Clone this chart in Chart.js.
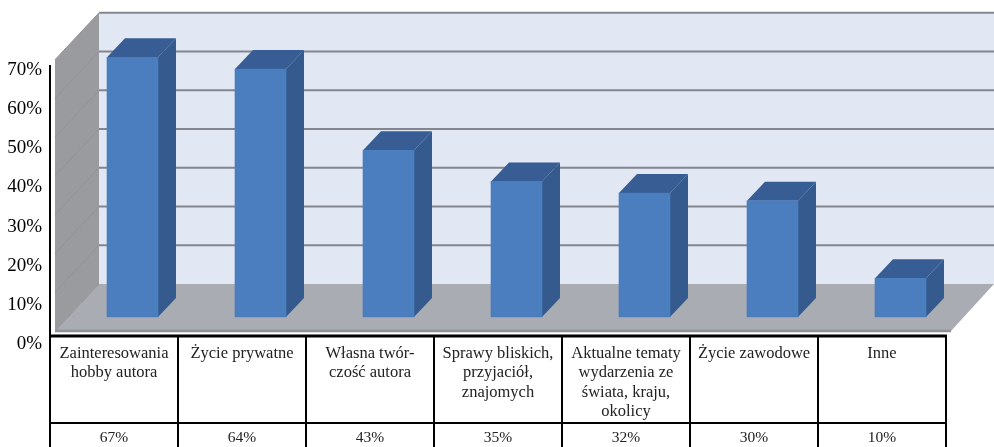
<!DOCTYPE html>
<html>
<head>
<meta charset="utf-8">
<script src="https://cdn.jsdelivr.net/npm/chart.js@4"></script>
<style>
  html, body { margin: 0; background: #fff; }
  canvas { display: block; }
</style>
</head>
<body>
<canvas id="chart" width="994" height="447"></canvas>
<script>
const categories = [
  ['Zainteresowania', 'hobby autora'],
  'Życie prywatne',
  ['Własna twór-', 'czość autora'],
  ['Sprawy bliskich,', 'przyjaciół,', 'znajomych'],
  ['Aktualne tematy', 'wydarzenia ze', 'świata, kraju,', 'okolicy'],
  'Życie zawodowe',
  'Inne',
]
const shares = [67, 64, 43, 35, 32, 30, 10]
const tickValues = [0, 10, 20, 30, 40, 50, 60, 70]

const depthX = 18
const depthY = 19
const wallX = 99
const wallFrontX = 55
const floorRightX = 994
const floorFrontRightX = 951
const wallShift = 33
const floorDrop = 47
const tableTop = 336
const tableRow = 423
const tableOffset = 82.5

const poly = (ctx, points, fill) => {
  ctx.beginPath()
  points.forEach(([x, y], i) => (i ? ctx.lineTo(x, y) : ctx.moveTo(x, y)))
  ctx.closePath()
  ctx.fillStyle = fill
  ctx.fill()
}

const line = (ctx, x1, y1, x2, y2, color, width) => {
  ctx.beginPath()
  ctx.moveTo(x1, y1)
  ctx.lineTo(x2, y2)
  ctx.strokeStyle = color
  ctx.lineWidth = width
  ctx.stroke()
}

const noPadding = (axis) => {
  axis.paddingTop = 0
  axis.paddingBottom = 0
  axis.paddingLeft = 0
  axis.paddingRight = 0
}

const box3d = {
  id: 'box3d',
  beforeDraw(chart) {
    const { ctx, scales } = chart
    const wallY = (v) => scales.y.getPixelForValue(v) - wallShift
    const top = wallY(70)
    const floor = wallY(0)
    const front = floor + floorDrop
    ctx.save()
    poly(ctx, [[wallX, top], [floorRightX, top], [floorRightX, floor], [wallX, floor]], '#e1e7f3')
    poly(ctx, [[wallFrontX, top + floorDrop], [wallX, top], [wallX, floor], [wallFrontX, front]], '#9a9b9f')
    poly(ctx, [[wallFrontX, front], [wallX, floor], [floorRightX, floor], [floorFrontRightX, front]], '#a9acb3')
    tickValues.forEach((v) => {
      if (v > 0) line(ctx, wallX, wallY(v), floorRightX, wallY(v), '#83868f', 2)
      line(ctx, wallX, wallY(v), wallFrontX, wallY(v) + floorDrop, '#929397', 1)
    })
    line(ctx, wallFrontX, front, floorFrontRightX, front, '#8f9197', 2.5)
    ctx.restore()
  },
  beforeDatasetsDraw(chart) {
    const { ctx } = chart
    ctx.save()
    chart.getDatasetMeta(0).data.forEach((bar) => {
      const left = bar.x - bar.width / 2
      const right = bar.x + bar.width / 2
      poly(ctx, [[right, bar.y], [right + depthX, bar.y - depthY], [right + depthX, bar.base - depthY], [right, bar.base]], '#345a8e')
      poly(ctx, [[left, bar.y], [left + depthX, bar.y - depthY], [right + depthX, bar.y - depthY], [right, bar.y]], '#375d94')
    })
    ctx.restore()
  },
  afterDraw(chart) {
    const { ctx, scales } = chart
    const columnLeft = (i) => scales.x.getPixelForValue(0) - tableOffset + i * (scales.x.getPixelForValue(1) - scales.x.getPixelForValue(0))
    const tableLeft = columnLeft(0)
    const tableRight = columnLeft(shares.length)
    ctx.save()
    line(ctx, tableLeft, scales.yTicks.getPixelForValue(70) - 5, tableLeft, tableTop, '#000', 2)
    line(ctx, tableLeft - 1, tableTop, tableRight + 1, tableTop, '#000', 3)
    line(ctx, tableLeft - 1, tableRow, tableRight + 1, tableRow, '#000', 2)
    for (let i = 0; i <= shares.length; i++) {
      line(ctx, columnLeft(i), tableTop, columnLeft(i), chart.height, '#000', 2)
    }
    ctx.fillStyle = '#222'
    ctx.font = '15.5px "Liberation Serif"'
    ctx.textAlign = 'center'
    ctx.textBaseline = 'middle'
    shares.forEach((v, i) => {
      ctx.fillText(`${v}%`, (columnLeft(i) + columnLeft(i + 1)) / 2, 438)
    })
    ctx.restore()
  },
}

new Chart(document.getElementById('chart').getContext('2d'), {
  type: 'bar',
  data: {
    labels: categories,
    datasets: [
      {
        data: shares,
        yAxisID: 'y',
        backgroundColor: '#4a7ebf',
        borderWidth: 0,
        barThickness: 51,
      },
    ],
  },
  plugins: [box3d],
  options: {
    responsive: false,
    animation: false,
    layout: {
      padding: { top: 13, right: 29.5, left: 0, bottom: 0 },
    },
    plugins: {
      legend: { display: false },
      tooltip: { enabled: false },
    },
    scales: {
      x: {
        grid: { display: false, drawTicks: false },
        border: { display: false },
        afterFit: (axis) => {
          axis.height = 105
          noPadding(axis)
        },
        ticks: {
          autoSkip: false,
          maxRotation: 0,
          minRotation: 0,
          padding: 2,
          labelOffset: -18.5,
          color: '#222',
          font: { family: '"Liberation Serif"', size: 16.5, lineHeight: 1.17 },
        },
      },
      y: {
        display: false,
        min: -6.45,
        max: 78.45,
      },
      yTicks: {
        position: 'left',
        min: 0.5,
        max: 84.56,
        grid: { display: false, drawTicks: false },
        border: { display: false },
        afterBuildTicks: (axis) => {
          axis.ticks = tickValues.map((value) => ({ value }))
        },
        afterFit: (axis) => {
          axis.width = 68.5
          noPadding(axis)
        },
        ticks: {
          padding: 26.5,
          color: '#000',
          font: { family: '"Liberation Serif"', size: 19 },
          callback: (value) => `${value}%`,
        },
      },
    },
  },
})
</script>
</body>
</html>
